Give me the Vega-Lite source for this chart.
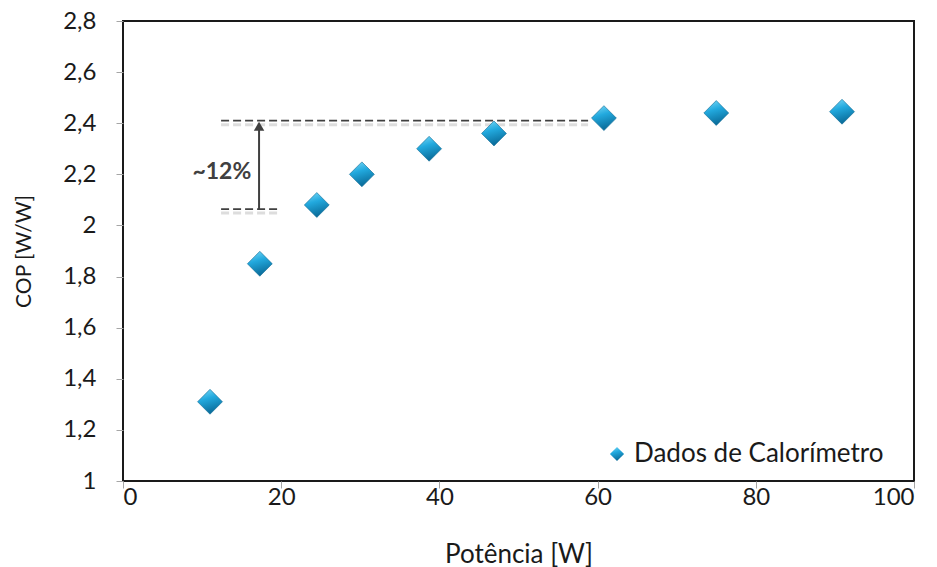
{
  "$schema": "https://vega.github.io/schema/vega-lite/v6.json",
  "width": 791,
  "height": 460,
  "autosize": "none",
  "padding": {"left": 123, "top": 21, "right": 23, "bottom": 86},
  "background": "white",
  "config": {
    "font": "Lato",
    "view": {"stroke": "#1a1a1a", "strokeWidth": 2},
    "axis": {
      "grid": false,
      "domain": false,
      "tickColor": "#a6a6a6",
      "tickSize": 7,
      "labelFontSize": 24,
      "labelColor": "#1a1a1a",
      "titleFontWeight": "normal",
      "titleColor": "#1a1a1a"
    }
  },
  "datasets": {
    "calorimetro": [
      {"potencia": 11.0, "cop": 1.31},
      {"potencia": 17.3, "cop": 1.85},
      {"potencia": 24.5, "cop": 2.08},
      {"potencia": 30.2, "cop": 2.2},
      {"potencia": 38.7, "cop": 2.3},
      {"potencia": 46.9, "cop": 2.36},
      {"potencia": 60.8, "cop": 2.42},
      {"potencia": 75.0, "cop": 2.44},
      {"potencia": 90.9, "cop": 2.445}
    ],
    "niveis": [
      {"x": 12.4, "x2": 58.8, "y": 2.41},
      {"x": 12.4, "x2": 19.6, "y": 2.064}
    ],
    "seta": [{"x": 17.2, "y": 2.064, "y2": 2.388}],
    "rotulo": [{"x": 12.5, "y": 2.21, "texto": "~12%"}]
  },
  "layer": [
    {
      "data": {"name": "niveis"},
      "mark": {"type": "rule", "stroke": "#d2d2d2", "strokeWidth": 3, "strokeDash": [8, 4], "yOffset": 4, "opacity": 0.75},
      "encoding": {
        "x": {"field": "x", "type": "quantitative", "scale": {"domain": [0, 100]}},
        "x2": {"field": "x2"},
        "y": {"field": "y", "type": "quantitative", "scale": {"domain": [1, 2.8]}}
      }
    },
    {
      "data": {"name": "niveis"},
      "mark": {"type": "rule", "stroke": "#404040", "strokeWidth": 1.6, "strokeDash": [8, 4]},
      "encoding": {
        "x": {"field": "x", "type": "quantitative"},
        "x2": {"field": "x2"},
        "y": {"field": "y", "type": "quantitative"}
      }
    },
    {
      "data": {"name": "seta"},
      "mark": {"type": "rule", "stroke": "#404040", "strokeWidth": 2},
      "encoding": {
        "x": {"field": "x", "type": "quantitative"},
        "y": {"field": "y", "type": "quantitative"},
        "y2": {"field": "y2"}
      }
    },
    {
      "data": {"name": "seta"},
      "mark": {"type": "point", "shape": "triangle-up", "filled": true, "fill": "#404040", "size": 110, "opacity": 1},
      "encoding": {
        "x": {"field": "x", "type": "quantitative"},
        "y": {"field": "y2", "type": "quantitative"}
      }
    },
    {
      "data": {"name": "rotulo"},
      "mark": {"type": "text", "fontWeight": "bold", "fontSize": 23, "fill": "#404040", "align": "center", "baseline": "middle"},
      "encoding": {
        "x": {"field": "x", "type": "quantitative"},
        "y": {"field": "y", "type": "quantitative"},
        "text": {"field": "texto"}
      }
    },
    {
      "data": {"name": "calorimetro"},
      "mark": {
        "type": "point",
        "filled": true,
        "size": 620,
        "opacity": 1,
        "stroke": "#0d6a93",
        "strokeWidth": 0.6,
        "fill": {
          "gradient": "linear",
          "x1": 0, "y1": 0, "x2": 0.3, "y2": 1,
          "stops": [
            {"offset": 0, "color": "#7fdcf8"},
            {"offset": 0.45, "color": "#22a9de"},
            {"offset": 1, "color": "#0b6e9c"}
          ]
        }
      },
      "encoding": {
        "x": {
          "field": "potencia",
          "type": "quantitative",
          "title": "Potência [W]",
          "scale": {"domain": [0, 100], "nice": false},
          "axis": {"values": [0, 20, 40, 60, 80, 100], "labelPadding": -3, "titlePadding": 32, "titleFontSize": 26}
        },
        "y": {
          "field": "cop",
          "type": "quantitative",
          "title": "COP [W/W]",
          "scale": {"domain": [1, 2.8], "nice": false, "zero": false},
          "axis": {
            "values": [1, 1.2, 1.4, 1.6, 1.8, 2, 2.2, 2.4, 2.6, 2.8],
            "labelExpr": "replace(format(datum.value, '.1~f'), '.', ',')",
            "labelPadding": 20,
            "titlePadding": 28,
            "titleFontSize": 21
          }
        },
        "shape": {
          "datum": "Dados de Calorímetro",
          "type": "nominal",
          "scale": {"range": ["diamond"]},
          "legend": {
            "orient": "none",
            "legendX": 481,
            "legendY": 420,
            "title": null,
            "labelFontSize": 26,
            "labelLimit": 400,
            "labelColor": "#1a1a1a",
            "symbolSize": 200,
            "symbolFillColor": "#1e9fd6",
            "symbolStrokeColor": "#0d6a93",
            "symbolStrokeWidth": 0.6
          }
        }
      }
    }
  ]
}
